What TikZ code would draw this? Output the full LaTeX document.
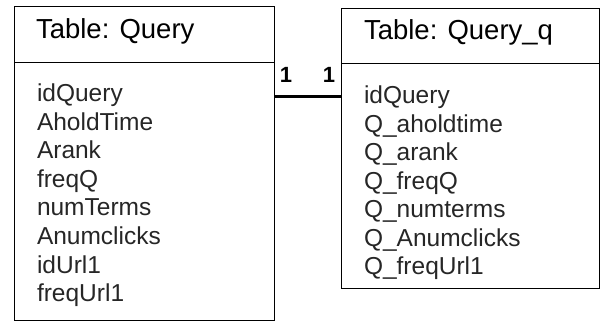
\documentclass[tikz,border=0pt]{standalone}
\usepackage{fontspec}
\setmainfont{Liberation Sans}
\usetikzlibrary{positioning}
\begin{document}
\begin{tikzpicture}[x=1pt,y=-1pt,inner sep=0pt,outer sep=0pt,
tabhead/.style={draw,rectangle,anchor=north west,minimum width=#1},
tabbody/.style={draw,rectangle,anchor=north west,minimum width=#1},
field/.style={anchor=base west,text=black!85,font=\fontsize{24.5}{28}\selectfont},
title/.style={anchor=base west,font=\fontsize{27.5}{30}\selectfont},
card/.style={anchor=base,font=\fontsize{22}{24}\selectfont\bfseries}]
\useasboundingbox (0,0) rectangle (600,323);
% table Query
\node[tabhead=260pt,minimum height=56pt] (qhead) at (14,6) {};
\node[tabbody=260pt,minimum height=258pt] (qbody) at (14,62) {};
\node[title] (qtitle) at (36,39) {Table: Query};
\foreach \f [count=\i from 0] in {idQuery,AholdTime,Arank,freqQ,numTerms,Anumclicks,idUrl1,freqUrl1}
  \node[field] (qf\i) at (37,102+28.5*\i) {\f};
% table Query_q
\node[tabhead=258pt,minimum height=55pt] (qqhead) at (341,8) {};
\node[tabbody=258pt,minimum height=225pt] (qqbody) at (341,63) {};
\node[title] (qqtitle) at (364,40) {Table: Query\_q};
\foreach \f [count=\i from 0] in {idQuery,Q\_aholdtime,Q\_arank,Q\_freqQ,Q\_numterms,Q\_Anumclicks,Q\_freqUrl1}
  \node[field] (qqf\i) at (364,104+28.5*\i) {\f};
% relation 1 -- 1
\draw[line width=3pt] (qbody.north east) ++(0,35) coordinate (relL) -- (relL -| qqbody.west) coordinate (relR);
\node[card] (cardL) at (286,83) {1};
\node[card] (cardR) at (329,83) {1};
\end{tikzpicture}
\end{document}
